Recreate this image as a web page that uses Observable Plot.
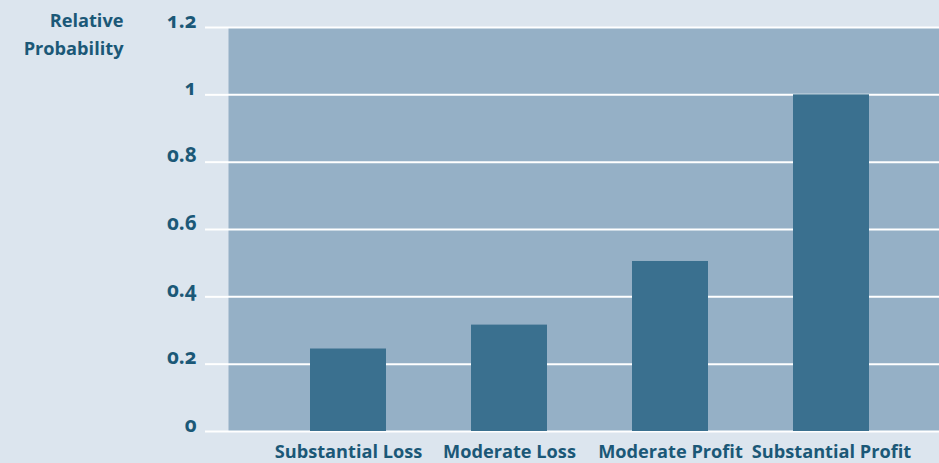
<!DOCTYPE html>
<html>
<head>
<meta charset="utf-8">
<script src="https://cdn.jsdelivr.net/npm/d3@7"></script>
<script src="https://cdn.jsdelivr.net/npm/@observablehq/plot@0.6"></script>
<style>
  html, body { margin: 0; padding: 0; background: #dce5ee; overflow: hidden; }
  #chart svg { display: block; }
  #chart [aria-label="y-axis tick"] { stroke: #ffffff; stroke-width: 2px; }
</style>
</head>
<body>
<div id="chart"></div>
<script>
const categories = ["Substantial Loss", "Moderate Loss", "Moderate Profit", "Substantial Profit"];
const values = [0.245, 0.316, 0.505, 1.0];
const yTicks = [0, 0.2, 0.4, 0.6, 0.8, 1, 1.2];
const yTickLabels = ["0", "0.2", "0.4", "0.6", "0.8", "1", "1.2"];
const yTitle = "Relative\nProbability";

const data = categories.map((c, i) => ({category: c, value: values[i]}));

const bg = "#dce5ee";
const plotBg = "#95b0c6";
const barColor = "#3a708f";
const textColor = "#1b5877";
const font = "'Open Sans', 'Noto Sans', sans-serif";
const fs = 18.2;
const fsTick = 20.5;

const chart = Plot.plot({
  width: 939,
  height: 463,
  marginLeft: 228,
  marginRight: 0,
  marginTop: 27,
  marginBottom: 32,
  style: {background: bg, fontFamily: font, color: textColor},
  x: {type: "band", domain: categories, paddingInner: 0.531, paddingOuter: 0.46, align: 0.537, label: null},
  y: {domain: [0, 1.2], label: null},
  marks: [
    Plot.frame({fill: plotBg, stroke: null}),
    Plot.gridY(yTicks, {stroke: "#ffffff", strokeOpacity: 1, strokeWidth: 2}),
    Plot.barY(data, {x: "category", y: "value", fill: barColor}),
    Plot.axisY({
      ticks: yTicks,
      tickSize: 23,
      tickFormat: () => "",
      color: "#ffffff",
      label: null
    }),
    Plot.text(yTicks, {
      y: (d) => d,
      text: (d, i) => yTickLabels[i],
      frameAnchor: "left",
      dx: -32,
      dy: -6.3,
      textAnchor: "end",
      fontSize: fsTick,
      fontWeight: "bold",
      fontVariant: "oldstyle-nums",
      fill: textColor
    }),
    Plot.axisX({
      tickSize: 0,
      tickPadding: 14,
      fontSize: fs,
      fontWeight: "bold",
      color: textColor,
      label: null
    }),
    Plot.text([yTitle], {
      frameAnchor: "top-left",
      dx: -105,
      dy: -20,
      text: (d) => d,
      textAnchor: "end",
      lineAnchor: "top",
      lineHeight: 1.54,
      fontSize: fs,
      fontWeight: "bold",
      fill: textColor
    })
  ]
});
document.getElementById("chart").appendChild(chart);
</script>
</body>
</html>
